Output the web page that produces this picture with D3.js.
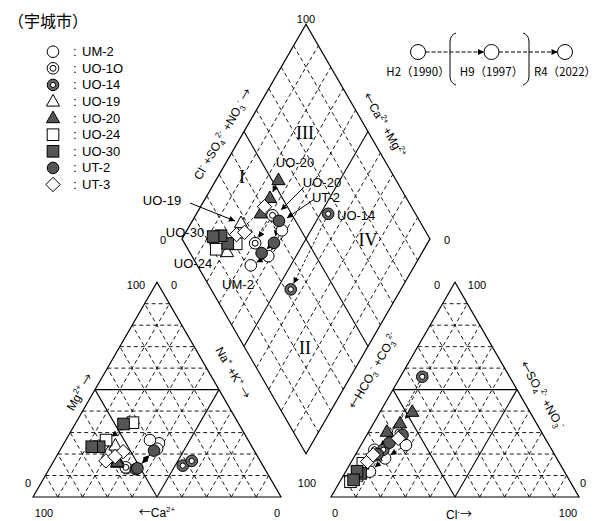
<!DOCTYPE html>
<html>
<head>
<meta charset="utf-8">
<script src="https://cdn.jsdelivr.net/npm/d3@7"></script>
<style>
  body { margin: 0; background: #fff; }
  text { font-family: "Liberation Sans", Arial, sans-serif; fill: #000; }
</style>
</head>
<body>
<svg id="chart" width="599" height="521"></svg>
<script>
// ---- data (meq %), order within each row: H2, H9, R4 ; null = not measured ----
const samples = ["UM-2", "UO-1O", "UO-14", "UO-19", "UO-20", "UO-24", "UO-30", "UT-2", "UT-3"];
const shapes = ["circle", "dcircle", "ring", "tri", "tri", "square", "square", "circle", "diamond"];
const fills = ["#fff", "#fff", "#666", "#fff", "#555", "#fff", "#555", "#555", "#fff"];
const years = ["H2（1990）", "H9（1997）", "R4（2022）"];

const mgPct = [
  [25, 22.5, 26.5], [13.4, null, 13.8], [null, 14.6, 16.8], [20.5, null, 24], [17.5, 16, 16.4],
  [34.6, null, 26.5], [34, 23.4, 23.4], [13, 21.6, 13.4], [21.1, 16.8, 18.8]
];
const naKPct = [
  [38.3, 38.8, 33.9], [31, null, 30.5], [null, 53.1, 55.6], [20.1, null, 21.2], [25.2, 25.9, 25.8],
  [23, null, 16.2], [19.5, 15, 12], [34.9, 38, 35.4], [25.8, 21, 23.7]
];
const so4Pct = [
  [24.2, 18, 11.8], [30, null, 22], [null, 56, 22], [19, null, 9.5], [39.7, 34.3, 30.4],
  [15.7, null, 7.1], [11, 12, 8], [28.9, 25.3, 20], [27.3, 16.5, 19.6]
];
const clPct = [
  [18.1, 12.8, 9.8], [12, null, 6.5], [null, 8.8, 10.1], [8.5, null, 5.6], [12.9, 10.7, 7.3],
  [5, null, 4.3], [6.4, 4.5, 5.1], [14.4, 10.9, 8.8], [13.5, 6.5, 7.2]
];

const gridSteps = d3.range(10, 100, 10);

// ---- geometry ----
const svg = d3.select("#chart");
const side = 248, triH = side * Math.sqrt(3) / 2;
const baseY = 497, catX0 = 33, anX0 = 331;
const pct = d3.scaleLinear().domain([0, 100]).range([0, side]);
const pctH = d3.scaleLinear().domain([0, 100]).range([0, triH]);
const gap = anX0 - (catX0 + side);
const dB = [catX0 + side + gap / 2, baseY - gap / 2 * Math.sqrt(3)];
const dL = [dB[0] - side / 2, dB[1] - triH];

const catPos = (mg, na) => [catX0 + pct(na) + pct(mg) / 2, baseY - pctH(mg)];
const anPos = (so4, cl) => [anX0 + pct(cl) + pct(so4) / 2, baseY - pctH(so4)];
const dmPos = (na, cs) => [dL[0] + pct(na + cs) / 2, dL[1] + pctH(na - cs)];

const defs = svg.append("defs");
defs.append("marker").attr("id", "arr")
  .attr("viewBox", "0 0 10 10").attr("refX", 10).attr("refY", 5)
  .attr("markerUnits", "userSpaceOnUse").attr("markerWidth", 7).attr("markerHeight", 6)
  .attr("orient", "auto")
  .append("path").attr("d", "M0,0L10,5L0,10Z").attr("fill", "#000");

const gridG = svg.append("g");
function seg(a, b, solid) {
  gridG.append("line")
    .attr("x1", a[0]).attr("y1", a[1]).attr("x2", b[0]).attr("y2", b[1])
    .attr("stroke", "#000")
    .attr("stroke-width", solid ? 1.1 : 0.9)
    .attr("stroke-dasharray", solid ? null : "4,3");
}

// triangle grids (same layout for both)
[catPos, anPos].forEach(pos => {
  gridSteps.forEach(k => {
    const solid = k === 50;
    seg(pos(k, 0), pos(k, 100 - k), solid);
    seg(pos(0, k), pos(100 - k, k), solid);
    seg(pos(0, 100 - k), pos(100 - k, 0), solid);
  });
  const outline = [pos(0, 0), pos(100, 0), pos(0, 100)];
  gridG.append("path").attr("d", "M" + outline.join("L") + "Z")
    .attr("fill", "none").attr("stroke", "#000").attr("stroke-width", 1.2);
});

// diamond grid
gridSteps.forEach(k => {
  const solid = k === 50;
  seg(dmPos(k, 0), dmPos(k, 100), solid);
  seg(dmPos(0, k), dmPos(100, k), solid);
});
const dOutline = [dmPos(0, 0), dmPos(0, 100), dmPos(100, 100), dmPos(100, 0)];
gridG.append("path").attr("d", "M" + dOutline.join("L") + "Z")
  .attr("fill", "none").attr("stroke", "#000").attr("stroke-width", 1.2);

// ---- text helpers ----
function rich(sel, parts) {
  let cur = 0;
  parts.forEach(([t, m]) => {
    const off = m === "sup" ? -5 : m === "sub" ? 3 : 0;
    const ts = sel.append("tspan").attr("dy", off - cur)
      .attr("font-size", m ? 8 : null).text(t);
    if (/[←→]/.test(t)) ts.style("font-family", "'Noto Sans CJK JP', sans-serif");
    cur = off;
  });
}
function label(x, y, angle, parts, size) {
  const t = svg.append("text")
    .attr("transform", `translate(${x},${y}) rotate(${angle})`)
    .attr("y", 4).attr("text-anchor", "middle").attr("font-size", size || 12);
  rich(t, parts);
}

label(80, 392, -60, [["Mg"], ["2+", "sup"], [" →"]]);
label(233, 373, 60, [["Na"], ["+", "sup"], [" +K"], ["+", "sup"], [" →"]]);
label(157, 513, 0, [["←"], ["Ca"], ["2+", "sup"]]);
label(373, 371, -60, [["←"], ["HCO"], ["3", "sub"], ["-", "sup"], [" +CO"], ["3", "sub"], ["2-", "sup"]]);
label(542, 395, 60, [["←"], ["SO"], ["4", "sub"], ["2-", "sup"], [" +NO"], ["3", "sub"], ["-", "sup"]]);
label(459, 515, 0, [["Cl"], ["-", "sup"], ["→"]]);
label(223, 134, -60, [["Cl"], ["-", "sup"], [" +SO"], ["4", "sub"], ["2-", "sup"], [" +NO"], ["3", "sub"], ["-", "sup"], [" →"]]);
label(384, 125, 60, [["←"], ["Ca"], ["2+", "sup"], [" +Mg"], ["2+", "sup"]]);

// tick labels
const ticks = [
  ["100", 306, 19], ["0", 163, 240], ["0", 447, 240],
  ["100", 136, 285], ["0", 174, 285], ["0", 28, 483], ["100", 44, 513], ["0", 277, 513],
  ["0", 437, 285], ["100", 477, 285], ["100", 307, 483], ["0", 583, 483], ["0", 335, 513], ["100", 568, 513]
];
svg.selectAll(".tick").data(ticks).join("text").attr("class", "tick")
  .attr("x", d => d[1]).attr("y", d => d[2] + 4)
  .attr("text-anchor", "middle").attr("font-size", 11).text(d => d[0]);

// roman numerals
const numerals = [["I", 242, 177], ["III", 305, 133], ["IV", 368, 240], ["II", 305, 348]];
svg.selectAll(".rn").data(numerals).join("text").attr("class", "rn")
  .attr("x", d => d[1]).attr("y", d => d[2] + 6)
  .attr("text-anchor", "middle").attr("font-size", 18)
  .style("font-family", "'Liberation Serif', 'DejaVu Serif', serif").text(d => d[0]);

// ---- markers ----
function drawMarker(g, shape, fill, x, y) {
  const m = g.append("g").attr("transform", `translate(${x},${y})`)
    .attr("stroke", "#000").attr("stroke-width", 1);
  if (shape === "circle") {
    m.append("circle").attr("r", 5.8).attr("fill", fill);
  } else if (shape === "dcircle") {
    m.append("circle").attr("r", 5.8).attr("fill", "#fff");
    m.append("circle").attr("r", 3).attr("fill", "#fff");
  } else if (shape === "ring") {
    m.append("circle").attr("r", 5.8).attr("fill", fill);
    m.append("circle").attr("r", 2.6).attr("fill", "#fff");
  } else if (shape === "tri") {
    m.append("path").attr("d", "M0,-7L6.6,4.6L-6.6,4.6Z").attr("fill", fill);
  } else if (shape === "square") {
    m.append("rect").attr("x", -5.8).attr("y", -5.8).attr("width", 11.6).attr("height", 11.6).attr("fill", fill);
  } else if (shape === "diamond") {
    m.append("path").attr("d", "M0,-7.2L7.2,0L0,7.2L-7.2,0Z").attr("fill", fill);
  }
}

function trend(g, a, b) {
  const dx = b[0] - a[0], dy = b[1] - a[1], len = Math.hypot(dx, dy);
  if (len < 15) return;
  const ux = dx / len, uy = dy / len;
  g.append("line")
    .attr("x1", a[0] + ux * 6).attr("y1", a[1] + uy * 6)
    .attr("x2", b[0] - ux * 6.5).attr("y2", b[1] - uy * 6.5)
    .attr("stroke", "#000").attr("stroke-width", 0.9)
    .attr("stroke-dasharray", "3,2").attr("marker-end", "url(#arr)");
}

const plots = [
  (s, y) => mgPct[s][y] == null ? null : catPos(mgPct[s][y], naKPct[s][y]),
  (s, y) => so4Pct[s][y] == null ? null : anPos(so4Pct[s][y], clPct[s][y]),
  (s, y) => naKPct[s][y] == null ? null : dmPos(naKPct[s][y], so4Pct[s][y] + clPct[s][y])
];

const lineG = svg.append("g");
const markG = svg.append("g");
plots.forEach(pos => {
  samples.forEach((name, s) => {
    const pts = years.map((_, y) => pos(s, y)).filter(p => p);
    for (let i = 1; i < pts.length; i++) trend(lineG, pts[i - 1], pts[i]);
  });
  samples.forEach((name, s) => {
    years.forEach((_, y) => {
      const p = pos(s, y);
      if (p) drawMarker(markG, shapes[s], fills[s], p[0], p[1]);
    });
  });
});

// ---- point labels in diamond ----
const pointLabels = [
  ["UO-20", 295, 162, "middle"], ["UO-20", 322, 182, "middle"], ["UT-2", 326, 197, "middle"],
  ["UO-19", 162, 200, "middle"], ["UO-30", 185, 232, "middle"], ["UO-24", 193, 263, "middle"],
  ["UM-2", 238, 284, "middle"], ["UO-14", 337, 215, "start"]
];
svg.selectAll(".pl").data(pointLabels).join("text").attr("class", "pl")
  .attr("x", d => d[1]).attr("y", d => d[2] + 4.5).attr("text-anchor", d => d[3])
  .attr("font-size", 13).text(d => d[0]);

const leaders = [[190, 203, 235, 221], [304, 187, 281, 210], [313, 200, 287, 218]];
svg.selectAll(".ld").data(leaders).join("line").attr("class", "ld")
  .attr("x1", d => d[0]).attr("y1", d => d[1]).attr("x2", d => d[2]).attr("y2", d => d[3])
  .attr("stroke", "#000").attr("stroke-width", 1).attr("marker-end", "url(#arr)");

// ---- legends ----
svg.append("text").attr("x", 8).attr("y", 27).attr("font-size", 16)
  .style("font-family", "'Noto Sans CJK JP', sans-serif").text("（宇城市）");

const legG = svg.append("g");
samples.forEach((name, i) => {
  const y = 51.7 + i * 16.6;
  drawMarker(legG, shapes[i], fills[i], 53, y);
  legG.append("text").attr("x", 73).attr("y", y + 4.5).attr("font-size", 13).text(":");
  legG.append("text").attr("x", 82).attr("y", y + 4.5).attr("font-size", 13).text(name);
});

const yrX = d3.scalePoint().domain(years).range([418, 565]);
const yrG = svg.append("g");
years.forEach((yr, i) => {
  if (i > 0) {
    const a = yrX(years[i - 1]) + 7.5, b = yrX(yr) - 7.5;
    yrG.append("line").attr("x1", a).attr("y1", 52).attr("x2", b).attr("y2", 52)
      .attr("stroke", "#000").attr("stroke-width", 1.2)
      .attr("stroke-dasharray", "4,2").attr("marker-end", "url(#arr)");
  }
  yrG.append("circle").attr("cx", yrX(yr)).attr("cy", 52).attr("r", 7.5)
    .attr("fill", "#fff").attr("stroke", "#000");
  yrG.append("text").attr("x", yrX(yr)).attr("y", 76).attr("text-anchor", "middle")
    .attr("font-size", 11.5).style("font-family", "'Noto Sans CJK JP', sans-serif").text(yr);
});
yrG.append("path").attr("d", "M456,33Q450,35 450,42L450,76Q450,83 456,85")
  .attr("fill", "none").attr("stroke", "#000");
yrG.append("path").attr("d", "M523,33Q529,35 529,42L529,76Q529,83 523,85")
  .attr("fill", "none").attr("stroke", "#000");
</script>
</body>
</html>
